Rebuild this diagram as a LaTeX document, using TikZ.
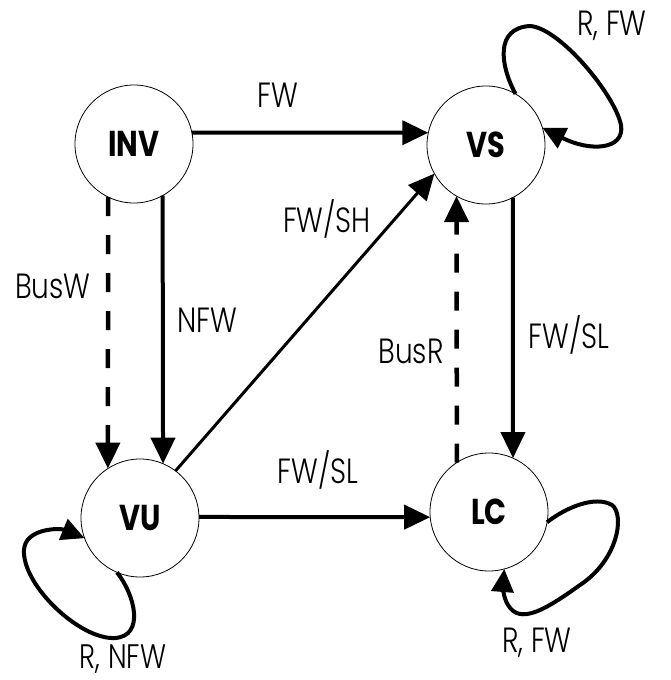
\documentclass[tikz,border=0pt]{standalone}
\usepackage{fontspec}
\IfFontExistsTF{Poppins Light}
  {\setmainfont{Poppins Light}[FakeStretch=0.8, BoldFont=Poppins Bold]}
  {\setmainfont{Poppins}[FakeStretch=0.8]}
\usetikzlibrary{arrows.meta}
\begin{document}
\begin{tikzpicture}[x=1pt,y=-1pt,
  state/.style={circle,draw,line width=0.8pt,minimum size=118pt,inner sep=0pt,outer sep=0pt,
    font=\bfseries\fontsize{36}{36}\selectfont},
  lbl/.style={inner sep=0pt,anchor=base,font=\fontsize{35}{35}\selectfont},
  trans/.style={line width=4pt,-{Triangle[length=26pt,width=24pt]}},
  diag/.style={line width=3pt,-{Triangle[length=26pt,width=24pt]}},
  bus/.style={line width=4.5pt,dash pattern=on 19pt off 19pt,-{Triangle[length=26pt,width=24pt]}},
  selfloop/.style={line width=4pt,-{Triangle[length=23pt,width=22pt]}}]
\useasboundingbox[fill=white] (0,0) rectangle (671,680);

% states
\node[state] (inv) at (134,144) {INV};
\node[state] (vs)  at (486,145) {VS};
\node[state] (vu)  at (140,518) {VU};
\node[state] (lc)  at (489,512) {LC};

% transitions between states
\draw[trans] (inv.11) -- (vs.168);
\draw[bus]   (inv.244) -- (vu.123);
\draw[trans] (inv.299.5) -- (vu.67);
\draw[diag]  (vu.53.5) -- (vs.209);
\draw[trans] (vu.1) -- (lc.185);
\draw[trans] (vs.297.2) -- (lc.66);
\draw[bus]   (lc.123) -- (vs.240.6);

% self loops
\draw[selfloop] (vs.60) .. controls (500,65) and (495,28) .. (530,26)
  .. controls (560,28) and (615,95) .. (621,125)
  .. controls (625,150) and (590,152) .. (vs.17);
\draw[selfloop] (vu.247) .. controls (135,595) and (145,636) .. (115,638)
  .. controls (80,640) and (22,585) .. (24,550)
  .. controls (25,528) and (60,528) .. (vu.200);
\draw[selfloop] (lc.-10) .. controls (565,508) and (595,495) .. (612,505)
  .. controls (625,515) and (618,560) .. (580,585)
  .. controls (545,610) and (520,625) .. (508,605)
  .. controls (503,597) and (503,585) .. (lc.285);

% transition labels (placed on their baselines)
\node[lbl] (tFW)    at (278,107) {FW};
\node[lbl] (tNFW)   at (207,332) {NFW};
\node[lbl] (tBusW)  at (53,298)  {BusW};
\node[lbl] (tFWSH)  at (327,232) {FW/SH};
\node[lbl] (tBusR)  at (411,363) {BusR};
\node[lbl] (tFWSLr) at (569,348) {FW/SL};
\node[lbl] (tFWSLb) at (318,483) {FW/SL};
\node[lbl] (tRFWa)  at (612,35)  {R, FW};
\node[lbl,font=\fontsize{34}{34}\selectfont] (tRNFW) at (123,668) {R, NFW};
\node[lbl] (tRFWb)  at (537,652) {R, FW};
\end{tikzpicture}
\end{document}
